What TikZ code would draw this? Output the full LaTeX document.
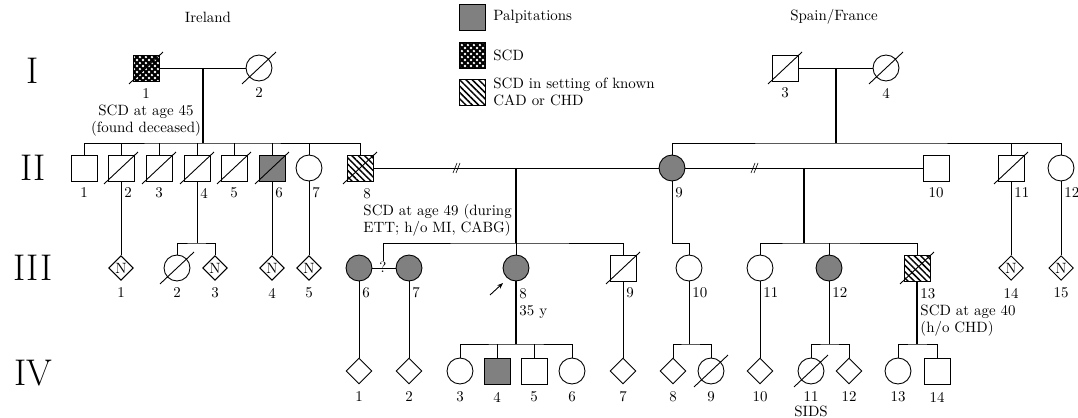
\documentclass[tikz,border=0pt]{standalone}
\usetikzlibrary{shapes.geometric,patterns,patterns.meta,arrows.meta}
\definecolor{PalpColor}{HTML}{808080}
\tikzdeclarepattern{
  name=scdmesh, type=colored,
  bottom left={(0pt,0pt)}, top right={(4pt,4pt)}, tile size={(4pt,4pt)},
  code={
    \fill[black] (0pt,0pt) rectangle (4pt,4pt);
    \fill[white] (2pt,2pt) circle (0.85pt);
    \fill[white] (0pt,0pt) circle (0.85pt);
    \fill[white] (4pt,0pt) circle (0.85pt);
    \fill[white] (0pt,4pt) circle (0.85pt);
    \fill[white] (4pt,4pt) circle (0.85pt);
  }
}
\newcommand\deceased[1]{\draw ([shift={(-11.4pt,-10.7pt)}]#1.center) -- ([shift={(11.4pt,10.7pt)}]#1.center);}
\newcommand\ruptmark[1]{\draw[thin] (#1) ++(-4,5) -- ++(4,-10) (#1) ++(-1,5) -- ++(4,-10);}
\begin{document}
\begin{tikzpicture}[x=0.67pt, y=-0.67pt, semithick, font=\fontsize{10}{11.5}\selectfont,
  ind/.style={draw, inner sep=0pt, minimum size=17.4pt},
  male/.style={ind, rectangle},
  female/.style={ind, circle},
  unknown/.style={ind, diamond},
  nunk/.style={ind, diamond, minimum size=16.5pt},
  palp/.style={fill=PalpColor},
  scd/.style={pattern=scdmesh},
  chd/.style={pattern={Lines[angle=-45, distance=3pt, line width=1pt]}},
  gen/.style={font=\Huge},
  num/.style={inner sep=0pt},
  rnum/.style={inner sep=0pt, anchor=west},
  desc/.style={line width=1.1pt}]
  \useasboundingbox (0,0) rectangle (1078,418);

  % generations
  \node[gen] (gI) at (33,71) {I};
  \node[gen] (gII) at (33,168) {II};
  \node[gen] (gIII) at (33,268) {III};
  \node[gen] (gIV) at (33,373) {IV};

  % headers and key
  \node (ire) at (208,17) {Ireland};
  \node (spf) at (834,17) {Spain/France};
  \node[male, palp] (kpalp) at (472,17) {};
  \node[anchor=west] (tpalp) at (488,17) {Palpitations};
  \node[male, scd] (kscd) at (472,55) {};
  \node[anchor=west] (tscd) at (488,55) {SCD};
  \node[male, chd] (kchd) at (472,92) {};
  \node[anchor=west, align=left] (tchd) at (488,92) {SCD in setting of known\\CAD or CHD};

  % generation I
  \node[male, scd] (i1) at (146,68) {};
  \node[female] (i2) at (259,68) {};
  \node[male] (i3) at (785,68) {};
  \node[female] (i4) at (886,68) {};
  \deceased{i1} \deceased{i2} \deceased{i3} \deceased{i4}
  \draw (i1) -- (i2);
  \draw (i3) -- (i4);
  \node[num, anchor=north, align=center] (li1) at (146,88) {1\\SCD at age 45\\(found deceased)};
  \node[num] (li2) at (259,93) {2};
  \node[num] (li3) at (785,93) {3};
  \node[num] (li4) at (886,93) {4};
  \coordinate (m1) at (203,68);
  \coordinate (s1) at (203,143);
  \coordinate (m2) at (836,68);
  \coordinate (s2) at (836,143);
  \draw[desc] (m1) -- (s1);
  \draw[desc] (m2) -- (s2);

  % generation II
  \node[male] (ii1) at (84,168) {};
  \node[male] (ii2) at (121,168) {};
  \node[male] (ii3) at (159,168) {};
  \node[male] (ii4) at (197,168) {};
  \node[male] (ii5) at (234,168) {};
  \node[male, palp] (ii6) at (272,168) {};
  \node[female] (ii7) at (309,168) {};
  \node[male, chd] (ii8) at (360,168) {};
  \node[female, palp] (ii9) at (672,168) {};
  \node[male] (ii10) at (936,168) {};
  \node[male] (ii11) at (1011,168) {};
  \node[female] (ii12) at (1061,168) {};
  \deceased{ii2} \deceased{ii3} \deceased{ii4} \deceased{ii5}
  \deceased{ii6} \deceased{ii8} \deceased{ii11}
  \draw (ii1) |- (s1) -| (ii8);
  \draw (ii2) -- (ii2 |- s1);
  \draw (ii3) -- (ii3 |- s1);
  \draw (ii4) -- (ii4 |- s1);
  \draw (ii5) -- (ii5 |- s1);
  \draw (ii6) -- (ii6 |- s1);
  \draw (ii7) -- (ii7 |- s1);
  \draw (ii9) |- (s2) -| (ii12);
  \draw (ii11) -- (ii11 |- s2);
  \node[num] (lii1) at (84,193) {1};
  \node[rnum] (lii2) at (124,193) {2};
  \node[num] (lii3) at (159,193) {3};
  \node[rnum] (lii4) at (200,193) {4};
  \node[num] (lii5) at (234,193) {5};
  \node[rnum] (lii6) at (275,193) {6};
  \node[rnum] (lii7) at (312,193) {7};
  \node[num, anchor=north west, align=left] (lii8) at (363,188) {8\\SCD at age 49 (during\\ETT; h/o MI, CABG)};
  \node[rnum] (lii9) at (675,193) {9};
  \node[num] (lii10) at (936,193) {10};
  \node[rnum] (lii11) at (1014,193) {11};
  \node[rnum] (lii12) at (1064,193) {12};

  % marriages
  \coordinate (r1) at (457,168);
  \coordinate (r2) at (755,168);
  \coordinate (m3) at (516,168);
  \coordinate (s3) at (516,243);
  \coordinate (m4) at (804,168);
  \coordinate (s4) at (804,243);
  \draw (ii8) -- (ii9);
  \draw (ii9) -- (ii10);
  \ruptmark{r1} \ruptmark{r2}
  \draw[desc] (m3) -- (s3);
  \draw[desc] (m4) -- (s4);

  % generation III
  \node[nunk] (iii1) at (121,268) {N};
  \node[female] (iii2) at (177,268) {};
  \node[nunk] (iii3) at (215,268) {N};
  \node[nunk] (iii4) at (272,268) {N};
  \node[nunk] (iii5) at (309,268) {N};
  \node[female, palp] (iii6) at (359,268) {};
  \node[female, palp] (iii7) at (409,268) {};
  \node[female, palp] (iii8) at (516,268) {};
  \node[male] (iii9) at (623,268) {};
  \node[female] (iii10) at (689,268) {};
  \node[female] (iii11) at (760,268) {};
  \node[female, palp] (iii12) at (829,268) {};
  \node[male, chd] (iii13) at (917,268) {};
  \node[nunk] (iii14) at (1011,268) {N};
  \node[nunk] (iii15) at (1061,268) {N};
  \deceased{iii2} \deceased{iii9} \deceased{iii13}
  \coordinate (c4) at (197,243);
  \coordinate (c9) at (672,243);
  \draw (ii2) -- (iii1);
  \draw (ii4) -- (c4);
  \draw (iii2) |- (c4) -| (iii3);
  \draw (ii6) -- (iii4);
  \draw (ii7) -- (iii5);
  \draw (ii9) -- (c9) -| (iii10);
  \draw (ii11) -- (iii14);
  \draw (ii12) -- (iii15);
  \draw (iii6) -- (iii7);
  \node[num] (q) at (383,267) {?};
  \draw (q) |- (s3) -| (iii9);
  \draw (iii8) -- (s3);
  \draw (iii11) |- (s4) -| (iii13);
  \draw (iii12) -- (iii12 |- s4);
  \node[num] (liii1) at (121,293) {1};
  \node[num] (liii2) at (177,293) {2};
  \node[num] (liii3) at (215,293) {3};
  \node[num] (liii4) at (272,293) {4};
  \node[num] (liii5) at (309,293) {5};
  \node[rnum] (liii6) at (362,293) {6};
  \node[rnum] (liii7) at (412,293) {7};
  \node[num, anchor=north west, align=left] (liii8) at (519,288) {8\\35 y};
  \node[rnum] (liii9) at (626,293) {9};
  \node[rnum] (liii10) at (692,293) {10};
  \node[rnum] (liii11) at (763,293) {11};
  \node[rnum] (liii12) at (832,293) {12};
  \node[num, anchor=north west, align=left] (liii13) at (920,288) {13\\SCD at age 40\\(h/o CHD)};
  \node[num] (liii14) at (1011,293) {14};
  \node[num] (liii15) at (1061,293) {15};
  \coordinate (pa) at (490,295);
  \coordinate (pb) at (503,283);
  \draw[-{Stealth[length=4pt]}] (pa) -- (pb);

  % generation IV
  \node[unknown] (iv1) at (359,371) {};
  \node[unknown] (iv2) at (409,371) {};
  \node[female] (iv3) at (460,371) {};
  \node[male, palp] (iv4) at (497,371) {};
  \node[male] (iv5) at (534,371) {};
  \node[female] (iv6) at (572,371) {};
  \node[unknown] (iv7) at (623,371) {};
  \node[unknown] (iv8) at (673,371) {};
  \node[female] (iv9) at (711,371) {};
  \node[unknown] (iv10) at (760,371) {};
  \node[female] (iv11) at (811,371) {};
  \node[unknown] (iv12) at (849,371) {};
  \node[female] (iv13) at (898,371) {};
  \node[male] (iv14) at (937,371) {};
  \deceased{iv9} \deceased{iv11}
  \coordinate (s5) at (516,344);
  \coordinate (s6) at (689,344);
  \coordinate (s7) at (829,344);
  \coordinate (s8) at (917,344);
  \draw (iii6) -- (iv1);
  \draw (iii7) -- (iv2);
  \draw (iii9) -- (iv7);
  \draw (iii11) -- (iv10);
  \draw[desc] (iii8) -- (s5);
  \draw (iv3) |- (s5) -| (iv6);
  \draw (iv4) -- (iv4 |- s5);
  \draw (iv5) -- (iv5 |- s5);
  \draw (iii10) -- (s6);
  \draw (iv8) |- (s6) -| (iv9);
  \draw (iii12) -- (s7);
  \draw (iv11) |- (s7) -| (iv12);
  \draw[desc] (iii13) -- (s8);
  \draw (iv13) |- (s8) -| (iv14);
  \node[num] (liv1) at (359,397) {1};
  \node[num] (liv2) at (409,397) {2};
  \node[num] (liv3) at (460,397) {3};
  \node[num] (liv4) at (497,397) {4};
  \node[num] (liv5) at (534,397) {5};
  \node[num] (liv6) at (572,397) {6};
  \node[num] (liv7) at (623,397) {7};
  \node[num] (liv8) at (673,397) {8};
  \node[num] (liv9) at (711,397) {9};
  \node[num] (liv10) at (760,397) {10};
  \node[num] (liv11) at (811,397) {11};
  \node[num] (liv12) at (849,397) {12};
  \node[num] (liv13) at (898,397) {13};
  \node[num] (liv14) at (937,397) {14};
  \node[num] (sids) at (811,411) {SIDS};
\end{tikzpicture}
\end{document}
